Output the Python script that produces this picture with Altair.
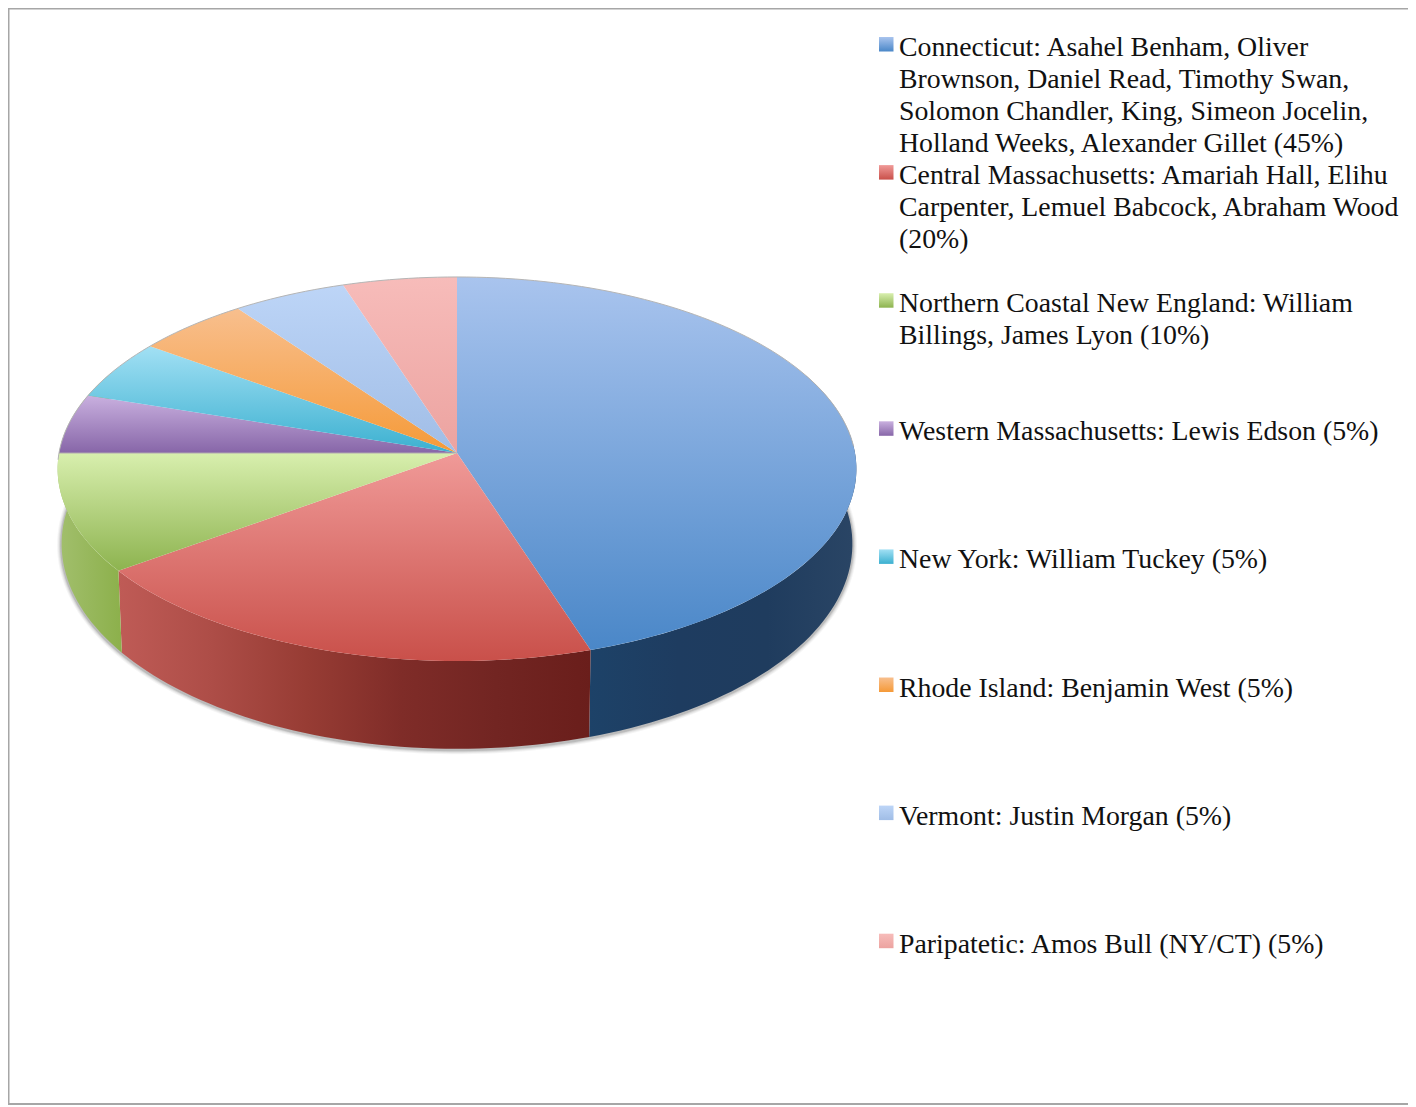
import math
import altair as alt
import pandas as pd

labels = [
    "Connecticut: Asahel Benham, Oliver\nBrownson, Daniel Read, Timothy Swan,\nSolomon Chandler, King, Simeon Jocelin,\nHolland Weeks, Alexander Gillet (45%)",
    "Central Massachusetts: Amariah Hall, Elihu\nCarpenter, Lemuel Babcock, Abraham Wood\n(20%)",
    "Northern Coastal New England: William\nBillings, James Lyon (10%)",
    "Western Massachusetts: Lewis Edson (5%)",
    "New York: William Tuckey (5%)",
    "Rhode Island: Benjamin West (5%)",
    "Vermont: Justin Morgan (5%)",
    "Paripatetic: Amos Bull (NY/CT) (5%)",
]
shares = [45, 20, 10, 5, 5, 5, 5, 5]
top_light = ["#a9c4ee", "#f09a98", "#d8efae", "#c9b0df", "#a2e0f4", "#f8bf8e", "#bdd5f7", "#f7bcba"]
top_dark = ["#4a87c8", "#c9504a", "#8db34f", "#8766a8", "#3bb0d0", "#f59a38", "#a0bde6", "#eca3a0"]
wall_stops = {
    0: ["#1d4268", "#1e3c60", "#1f3c5e", "#2a4565"],
    1: ["#bf5b56", "#ad4d47", "#973c34", "#7f2c28", "#722522", "#6a1e1b"],
    2: ["#a2bf6d", "#8cb04b"],
}
wall_start_deg = {0: 65, 1: None, 2: None}

CX, CY, A, B, K = 457, 453, 398, 190.7, 0.0833
W, H = 1400, 1099
x_scale = alt.Scale(domain=[8, 8 + W], range=[0, W])
y_scale = alt.Scale(domain=[8, 8 + H], range=[0, H])


def top_pt(deg):
    t = math.radians(deg)
    u, v = math.sin(t), -math.cos(t)
    d = 1 - K * v
    return CX + A * u / d, CY + B * v / d


def low_pt(deg):
    x, y = top_pt(deg)
    return CX + 0.99 * (x - CX), y + 74 + 0.066 * (y - CY)


def arc(fn, a0, a1, step=1.5):
    n = max(2, int(abs(a1 - a0) / step))
    return [fn(a0 + (a1 - a0) * i / n) for i in range(n + 1)]


def frame(pts):
    return pd.DataFrame({"x": [p[0] for p in pts], "y": [p[1] for p in pts], "i": range(len(pts))})


def enc(chart):
    return chart.encode(
        x=alt.X("x:Q", scale=x_scale, axis=None),
        y=alt.Y("y:Q", scale=y_scale, axis=None),
        order="i:Q",
    )


def grad(colors, horizontal=False):
    n = len(colors) - 1
    return alt.LinearGradient(
        gradient="linear",
        x1=0, y1=0,
        x2=1 if horizontal else 0,
        y2=0 if horizontal else 1,
        stops=[alt.GradientStop(offset=i / n, color=c) for i, c in enumerate(colors)],
    )


layers = []

# border
for pts in ([(8, 1104), (1408, 1104)], [(8.5, 8.5), (1408, 8.5)], [(8.5, 8), (8.5, 1104)]):
    layers.append(enc(alt.Chart(frame(pts)).mark_line(color="#a6a6a6", strokeWidth=2)))

# soft shadow under the disc
shadow = [(p[0], p[1] + 1) for p in arc(low_pt, 65, 295)]
for width, op in ((9, 0.06), (7, 0.08), (5, 0.12), (3, 0.2)):
    layers.append(enc(alt.Chart(frame(shadow)).mark_line(color="#555555", strokeWidth=width, opacity=op)))

# walls, then top faces
edges = [0]
for s in shares:
    edges.append(edges[-1] + s * 3.6)

for idx in range(3):
    a0 = wall_start_deg[idx] if wall_start_deg[idx] is not None else edges[idx]
    a1 = edges[idx + 1] if idx < 2 else 295
    pts = arc(top_pt, a0, a1) + arc(low_pt, a1, a0)
    pts.append(pts[0])
    layers.append(enc(alt.Chart(frame(pts)).mark_line(fill=grad(wall_stops[idx], True), strokeWidth=0)))

for idx in range(len(shares)):
    pts = [(CX, CY)] + arc(top_pt, edges[idx], edges[idx + 1]) + [(CX, CY)]
    layers.append(enc(alt.Chart(frame(pts)).mark_line(
        fill=grad([top_light[idx], top_dark[idx]]), strokeWidth=0)))

rim = arc(top_pt, 268, 360) + arc(top_pt, 0, 88)
layers.append(enc(alt.Chart(frame(rim)).mark_line(color="#b5b5b5", strokeWidth=1)))
layers.append(enc(alt.Chart(frame([top_pt(edges[3]), (CX, CY)])).mark_line(color="#b0a8b0", strokeWidth=1)))

# legend
for i, text in enumerate(labels):
    top = 37 + 128.1 * i
    sw = pd.DataFrame({"x": [879], "x2": [893.5], "y": [top], "y2": [top + 14.5]})
    layers.append(alt.Chart(sw).mark_rect(fill=grad([top_light[i], top_dark[i]])).encode(
        x=alt.X("x:Q", scale=x_scale, axis=None), x2="x2:Q",
        y=alt.Y("y:Q", scale=y_scale, axis=None), y2="y2:Q",
    ))
    tx = pd.DataFrame({"x": [899], "y": [top + 19], "t": [text]})
    layers.append(alt.Chart(tx).mark_text(
        align="left", baseline="alphabetic", font="Liberation Serif", fontSize=27.8,
        lineHeight=32, lineBreak="\n", color="#111111",
    ).encode(
        x=alt.X("x:Q", scale=x_scale, axis=None),
        y=alt.Y("y:Q", scale=y_scale, axis=None),
        text="t:N",
    ))

chart = alt.layer(*layers).properties(
    width=W, height=H, padding=0, background="white",
    autosize=alt.AutoSizeParams(type="none"),
).configure_view(stroke=None)

chart.save("out.html", embed_options={"renderer": "svg", "actions": False})
